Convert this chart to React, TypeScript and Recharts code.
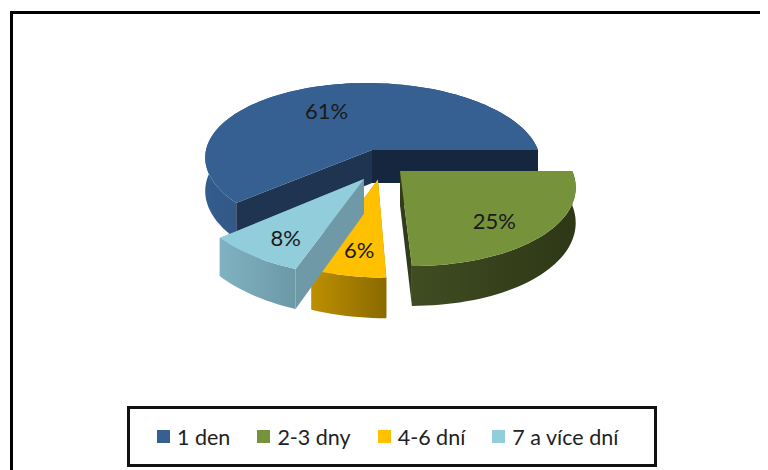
import { PieChart, Pie, Legend } from "recharts";

const categories = ["1 den", "2-3 dny", "4-6 dní", "7 a více dní"];
const shares = [61, 25, 6, 8];

const topColors = ["#366092", "#76933c", "#ffc000", "#92cddc"];
const wallFrom = ["#345c8c", "#404d22", "#bd9000", "#80b2c1"];
const wallTo = ["#1e3654", "#2e3716", "#8a6900", "#6d98a6"];
const faceColors = ["#1e3451", "#323c1a", "#a07a00", "#7099a7"];
const backFaceColor = "#16263f";

// how far each slice is pulled out, in disc radii
const explodeX = [0, 0.153, 0.02, -0.059];
const explodeY = [0, 0.266, 0.37, 0.3635];
const labelNudgeX = [-11, 12, -2, -15];
const labelNudgeY = [0, 13, 16, 15];

const pieData = categories.map((name, i) => ({ name, value: shares[i], fill: topColors[i] }));

// fake 3d camera: tilt, perspective and a little shear
const SQUASH = 76 / 166;
const PERSPECTIVE = 0.135;
const SHEAR = 0.08;
const DEPTH = 33;
const RAD = Math.PI / 180;

function project(cx: number, cy: number, r: number, u: number, v: number, drop = 0) {
  const w = 1 - PERSPECTIVE * v;
  const dy = (SQUASH * r * v) / w;
  const x = cx + (r * u) / w + SHEAR * dy;
  const y = cy + dy + drop / w;
  return `${x.toFixed(1)},${y.toFixed(1)}`;
}

function Slice3D(props: any) {
  const { cx, cy, outerRadius: r, startAngle, endAngle, index } = props;
  const ox = explodeX[index];
  const oy = explodeY[index];
  const steps = Math.max(4, Math.ceil(Math.abs(endAngle - startAngle) / 2));
  const angles: number[] = [];
  for (let i = 0; i <= steps; i++) angles.push(startAngle + ((endAngle - startAngle) * i) / steps);

  const rim = (drop: number) =>
    angles.map((a) => project(cx, cy, r, ox + Math.cos(a * RAD), oy - Math.sin(a * RAD), drop));
  const apexTop = project(cx, cy, r, ox, oy);
  const apexLow = project(cx, cy, r, ox, oy, DEPTH);
  const top = rim(0);
  const low = rim(DEPTH);
  const gradId = `wall-${index}`;

  const wall = <polygon points={[...top, ...[...low].reverse()].join(" ")} fill={`url(#${gradId})`} />;
  const faces = (
    <>
      <polygon points={[apexTop, top[0], low[0], apexLow].join(" ")} fill={faceColors[index]} />
      <polygon
        points={[apexTop, top[top.length - 1], low[low.length - 1], apexLow].join(" ")}
        fill={index === 0 ? backFaceColor : faceColors[index]}
      />
    </>
  );

  return (
    <g>
      <defs>
        <linearGradient id={gradId} x1="0" y1="0" x2="1" y2="0">
          <stop offset="0%" stopColor={wallFrom[index]} />
          <stop offset="100%" stopColor={wallTo[index]} />
        </linearGradient>
      </defs>
      {/* the big slice shows its cut faces in front of the rim, the pulled out ones don't */}
      {index === 0 ? wall : faces}
      {index === 0 ? faces : wall}
      <polygon points={[apexTop, ...top].join(" ")} fill={topColors[index]} />
    </g>
  );
}

function sliceLabel(props: any) {
  const { cx, cy, outerRadius: r, midAngle, index, value } = props;
  const u = explodeX[index] + 0.6 * Math.cos(midAngle * RAD);
  const v = explodeY[index] - 0.6 * Math.sin(midAngle * RAD);
  const [x, y] = project(cx, cy, r, u, v).split(",").map(Number);
  return (
    <text
      x={x + labelNudgeX[index]}
      y={y + labelNudgeY[index]}
      textAnchor="middle"
      dominantBaseline="central"
      fontFamily="Lato"
      fontSize={22}
      fill="#1a1a1a"
    >
      {value}%
    </text>
  );
}

function LegendBox({ payload }: any) {
  return (
    <div
      style={{
        boxSizing: "border-box",
        width: 530,
        height: 61,
        border: "3px solid #111",
        paddingLeft: 27,
        display: "flex",
        alignItems: "center",
        gap: 27,
        fontFamily: "Lato",
        fontSize: 21.5,
        color: "#222",
        background: "#fff",
      }}
    >
      {(payload || []).map((item: any) => (
        <span key={item.value} style={{ display: "flex", alignItems: "center", gap: 7 }}>
          <span style={{ width: 13, height: 13, background: item.color, display: "block" }} />
          {item.value}
        </span>
      ))}
    </div>
  );
}

export default function App() {
  return (
    <div style={{ position: "relative", width: 760, height: 462 }}>
      <div
        style={{
          position: "absolute",
          left: 2,
          top: 3,
          right: 0,
          bottom: 0,
          borderTop: "3px solid #000",
          borderLeft: "3px solid #000",
        }}
      />
      <PieChart
        width={760}
        height={462}
        margin={{ top: 0, right: 0, bottom: 0, left: 0 }}
        style={{ position: "absolute", left: 0, top: 0 }}
      >
        <Pie
          data={pieData}
          dataKey="value"
          nameKey="name"
          cx={364}
          cy={142}
          outerRadius={166}
          startAngle={219.6}
          endAngle={-140.4}
          stroke="none"
          shape={Slice3D}
          label={sliceLabel}
          labelLine={false}
          isAnimationActive={false}
        />
        <Legend
          content={LegendBox}
          layout="horizontal"
          align="left"
          verticalAlign="bottom"
          wrapperStyle={{ left: 119, top: 398, bottom: "auto", width: 530, height: 61 }}
        />
      </PieChart>
    </div>
  );
}
